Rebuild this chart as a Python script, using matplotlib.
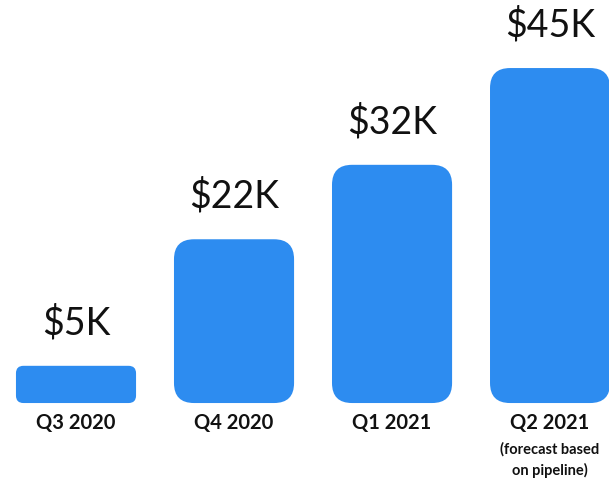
import matplotlib
matplotlib.use("Agg")
import matplotlib.pyplot as plt
from matplotlib.patches import FancyBboxPatch

categories = ["Q3 2020", "Q4 2020", "Q1 2021", "Q2 2021"]
values = [5, 22, 32, 45]
value_labels = ["$5K", "$22K", "$32K", "$45K"]
notes = ["", "", "", "(forecast based\non pipeline)"]

BLUE = "#2D8CF0"
W, H, DPI = 6.09, 4.78, 100
fig = plt.figure(figsize=(W, H), dpi=DPI)
ax = fig.add_axes([0, 0, 1, 1])
ax.set_xlim(-0.481, 3.373)
ax.set_ylim(-10.07, 54.14)
ax.axis("off")

px_x = 609 / (3.373 + 0.481)   # pixels per x unit
px_y = 478 / (54.14 + 10.07)   # pixels per y unit

bars = ax.bar(range(len(values)), values, width=0.76, color="none")
for b, v, lab, cat, note in zip(bars, values, value_labels, categories, notes):
    x0, y0, w, h = b.get_x(), b.get_y(), b.get_width(), b.get_height()
    hpx = h * px_y
    rpx = min(20, 0.2 * hpx)
    r = rpx / px_x
    aspect = px_x / px_y
    p = FancyBboxPatch((x0, y0), w, h,
                       boxstyle=f"round,pad=0,rounding_size={r}",
                       mutation_aspect=aspect, facecolor=BLUE,
                       edgecolor="none")
    ax.add_patch(p)
    cx = x0 + w / 2
    ax.annotate(lab, (cx, v), xytext=(0, 31), textcoords="offset points",
                ha="center", va="center", fontsize=27, family="Lato",
                color="#111111")
    ax.annotate(cat, (cx, 0), xytext=(0, -14.5), textcoords="offset points",
                ha="center", va="center", fontsize=14.5, family="Lato",
                fontweight="bold", color="#111111")
    if note:
        ax.annotate(note, (cx, 0), xytext=(0, -41), textcoords="offset points",
                    ha="center", va="center", fontsize=10.5, family="Lato",
                    fontweight="bold", color="#111111", linespacing=1.5)

fig.savefig("out.png", dpi=DPI, facecolor="white")
